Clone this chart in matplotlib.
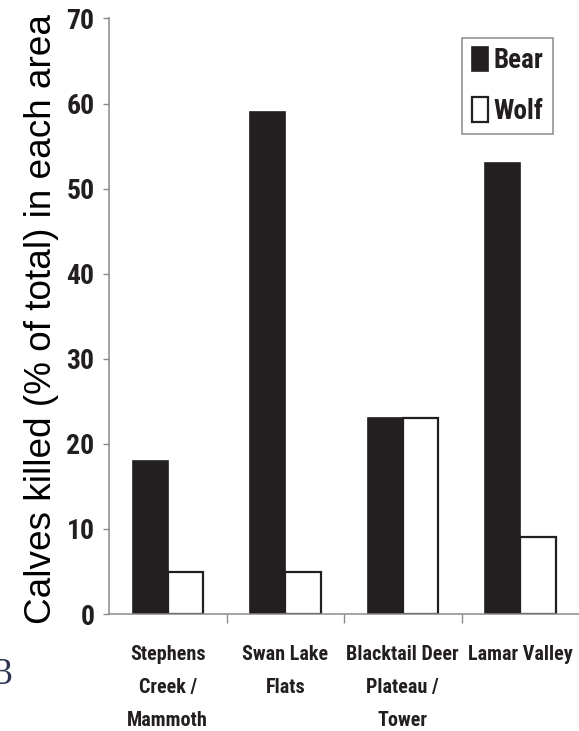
import numpy as np
import matplotlib
matplotlib.use('Agg')
import matplotlib.pyplot as plt

# Share of calves killed in each area, by predator
areas = ['Stephens\nCreek /\nMammoth', 'Swan Lake\nFlats', 'Blacktail Deer\nPlateau /\nTower', 'Lamar Valley']
bear = [18, 59, 23, 53]
wolf = [5, 5, 23, 9]
y_ticks = [0, 10, 20, 30, 40, 50, 60, 70]

ink = '#231f20'
axis_grey = '#8a8a8a'
narrow = ['Roboto Condensed', 'DejaVu Sans']

fig = plt.figure(figsize=(5.79, 7.31), dpi=100)
ax = fig.add_axes([0.1883, 0.160, 0.8117, 0.8147])

x = np.arange(len(areas))
w = 0.3
ax.bar(x - w / 2, bear, w, color=ink, edgecolor=ink, linewidth=1.2, label='Bear')
ax.bar(x + w / 2, wolf, w, color='white', edgecolor=ink, linewidth=1.6, label='Wolf')

ax.set_xlim(-0.5, 3.5)
ax.set_ylim(0, 70)
ax.set_yticks(y_ticks)
ax.set_yticklabels([str(v) for v in y_ticks], family=narrow, fontweight='bold',
                   fontsize=20, color=ink)
ax.set_xticks(x)
ax.set_xticklabels(areas, family=narrow, fontweight='bold', fontsize=14.5,
                   color=ink, va='top', linespacing=1.95)
ax.set_xticks([0.5, 1.5, 2.5], minor=True)
ax.tick_params(axis='x', which='major', length=0, pad=22)
ax.tick_params(axis='x', which='minor', length=6.5, width=1, color=axis_grey)
ax.tick_params(axis='y', length=4.5, width=1, color=axis_grey, pad=6)

for side in ('top', 'right'):
    ax.spines[side].set_visible(False)
for side in ('left', 'bottom'):
    ax.spines[side].set_color(axis_grey)
    ax.spines[side].set_linewidth(1.1)

leg = ax.legend(loc='upper right', bbox_to_anchor=(0.945, 0.968),
                prop={'family': narrow, 'weight': 'bold', 'size': 19.5},
                handlelength=0.6, handleheight=1.0, handletextpad=0.22,
                labelspacing=0.85, borderpad=0.35, borderaxespad=0,
                fancybox=False, framealpha=1)
leg.get_frame().set_edgecolor(axis_grey)
leg.get_frame().set_linewidth(1.1)
for t in leg.get_texts():
    t.set_color(ink)

fig.text(0.071, 0.563, 'Calves killed (% of total) in each area', rotation=90,
         ha='center', va='center', fontsize=26.6, family='Liberation Sans',
         color='black')

# stray page number at the left edge
fig.text(-0.012, 0.077, '3', fontsize=27, family=['Liberation Serif', 'DejaVu Serif'],
         color='#2b3550', ha='left', va='center')

fig.savefig('out.png', dpi=100)
